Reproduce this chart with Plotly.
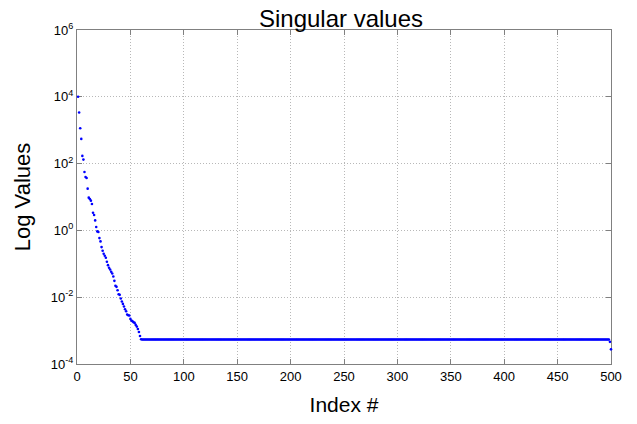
import plotly.graph_objects as go

# Leading singular values (log10 values), indices 1..60
head_idx = list(range(1, 61))
head_log = [4.0, 3.53, 3.06, 2.74, 2.23, 2.12, 1.75, 1.60, 1.57, 1.25,
            0.98, 0.94, 0.89, 0.79, 0.53, 0.46, 0.30, 0.10, -0.03, -0.05,
            -0.23, -0.33, -0.50, -0.61, -0.70, -0.76, -0.82, -0.94, -1.04, -1.12,
            -1.17, -1.24, -1.29, -1.38, -1.51, -1.66, -1.69, -1.79, -1.91, -1.93,
            -2.04, -2.13, -2.20, -2.28, -2.36, -2.42, -2.52, -2.54, -2.55, -2.65,
            -2.70, -2.72, -2.75, -2.77, -2.83, -2.88, -2.95, -3.04, -3.16, -3.26]
plateau_value = 5.43e-4          # flat tail, indices 61..498
tail_idx = [499, 500]
tail_vals = [4.6e-4, 2.75e-4]

x_vals = head_idx + list(range(61, 499)) + tail_idx
y_vals = [10 ** v for v in head_log] + [plateau_value] * (498 - 60) + tail_vals

y_tickvals = [1e-4, 1e-2, 1, 1e2, 1e4, 1e6]
y_ticktext = ["10<sup>-4</sup>", "10<sup>-2</sup>", "10<sup>0</sup>",
              "10<sup>2</sup>", "10<sup>4</sup>", "10<sup>6</sup>"]
x_tickvals = [0, 50, 100, 150, 200, 250, 300, 350, 400, 450, 500]

FONT = "Liberation Sans, Arial, sans-serif"

fig = go.Figure()
fig.add_trace(go.Scatter(
    x=x_vals, y=y_vals, mode="markers",
    marker=dict(color="#0000ff", size=2.6, line=dict(width=0)),
    cliponaxis=False,
    showlegend=False,
))

axis_common = dict(
    showline=True, linecolor="#808080", linewidth=1, mirror="allticks",
    ticks="inside", ticklen=5, tickcolor="#808080",
    showgrid=True, gridcolor="#b8b8b8", griddash="1px,2px", gridwidth=1,
    zeroline=False, layer="below traces",
    tickfont=dict(family=FONT, size=13, color="black"),
)

fig.update_layout(
    width=637, height=424,
    margin=dict(l=77, r=26, t=30, b=57),
    paper_bgcolor="white", plot_bgcolor="white",
    title=dict(text="Singular values", x=341 / 637, xanchor="center", y=0.975, yanchor="top",
               font=dict(family=FONT, size=24, color="black")),
    xaxis=dict(range=[0, 500], tickvals=x_tickvals,
               title=dict(text="Index #", font=dict(family=FONT, size=21, color="black"), standoff=14),
               **axis_common),
    yaxis=dict(type="log", range=[-4, 6], tickvals=y_tickvals, ticktext=y_ticktext,
               title=dict(text="Log Values", font=dict(family=FONT, size=22, color="black"), standoff=14),
               **axis_common),
)

fig.write_html("out.html")
